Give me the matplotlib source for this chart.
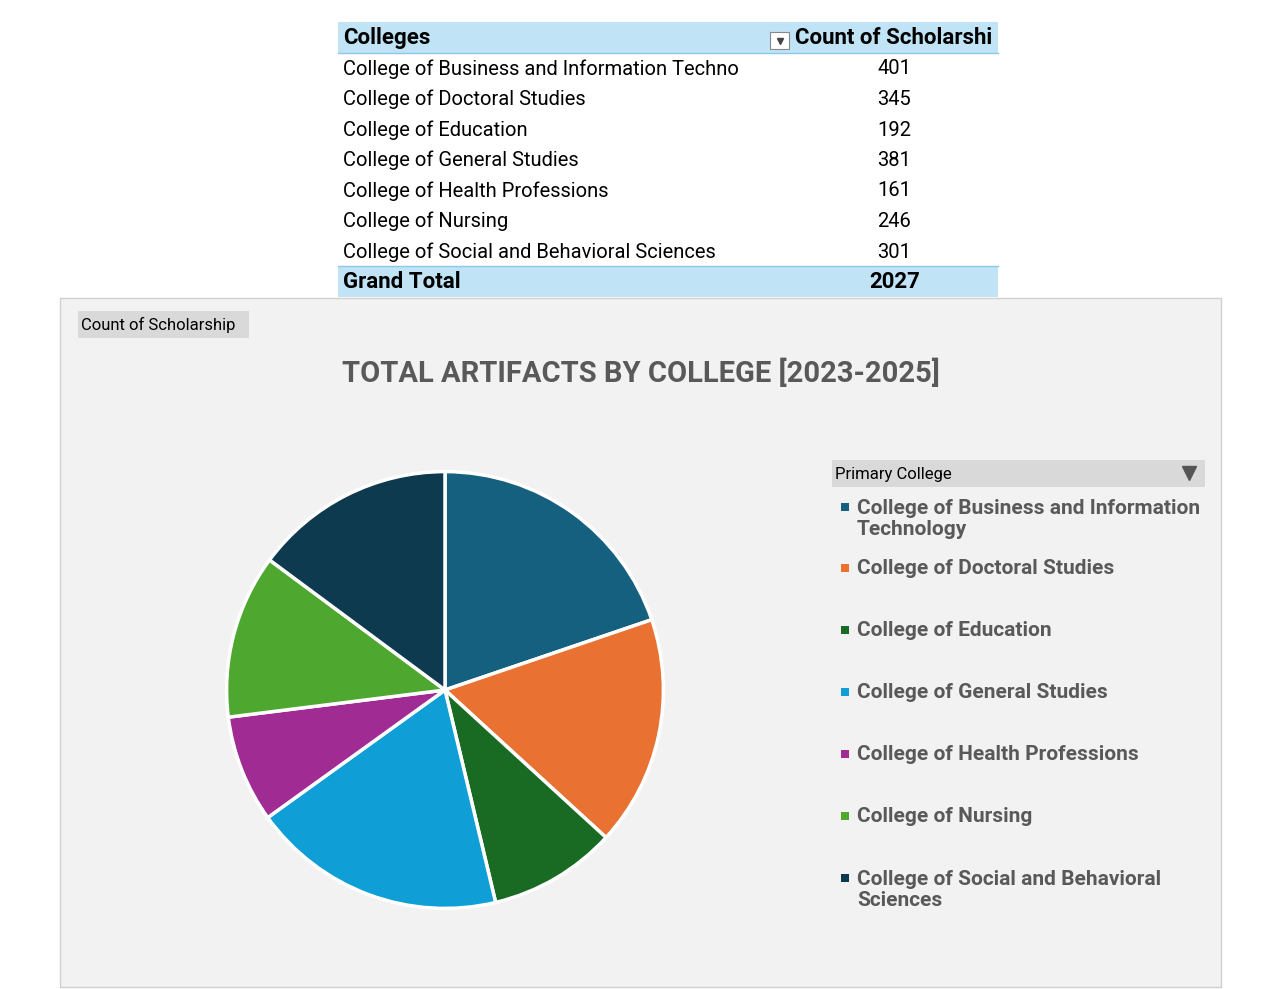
import matplotlib
matplotlib.use("Agg")
import matplotlib.pyplot as plt
from matplotlib.patches import Rectangle

colleges = ["College of Business and Information Technology", "College of Doctoral Studies",
            "College of Education", "College of General Studies", "College of Health Professions",
            "College of Nursing", "College of Social and Behavioral Sciences"]
table_labels = ["College of Business and Information Techno", "College of Doctoral Studies",
                "College of Education", "College of General Studies", "College of Health Professions",
                "College of Nursing", "College of Social and Behavioral Sciences"]
counts = [401, 345, 192, 381, 161, 246, 301]
legend_labels = ["College of Business and Information\nTechnology", "College of Doctoral Studies",
                 "College of Education", "College of General Studies", "College of Health Professions",
                 "College of Nursing", "College of Social and Behavioral\nSciences"]
colors = ["#15607F", "#E97132", "#196B24", "#0F9ED5", "#A02B93", "#4EA72E", "#0E3A4F"]

W, H = 1280, 989
fig = plt.figure(figsize=(12.8, 9.89), dpi=100)
fig.patch.set_facecolor("white")
plt.rcParams["font.family"] = "Roboto"

def fx(x): return x / W
def fy(y): return 1 - y / H
def rect(x0, y0, x1, y1, zorder=-5, **kw):
    fig.patches.append(Rectangle((fx(x0), fy(y1)), fx(x1 - x0), (y1 - y0) / H,
                                 transform=fig.transFigure, figure=fig, zorder=zorder, **kw))
def txt(x, y, s, **kw):
    return fig.text(fx(x), fy(y), s, va="center", **kw)

# Table
rect(338, 22, 998, 53, facecolor="#C0E4F5", edgecolor="none")
rect(338, 266, 998, 297, facecolor="#C0E4F5", edgecolor="none")
fig.lines.append(plt.Line2D([fx(338), fx(998)], [fy(53), fy(53)], color="#8CC8E8", lw=1, transform=fig.transFigure))
fig.lines.append(plt.Line2D([fx(338), fx(998)], [fy(266), fy(266)], color="#8CC8E8", lw=1, transform=fig.transFigure))
txt(343, 38, "Colleges", fontsize=16, fontweight="bold", color="black")
t = txt(795, 38, "Count of Scholarshi", fontsize=16, fontweight="bold", color="black")
clip = Rectangle((fx(338), fy(53)), fx(660), 31 / H, transform=fig.transFigure, visible=False)
fig.patches.append(clip)
t.set_clip_path(clip)
rect(770, 32, 789, 49, zorder=2, facecolor="white", edgecolor="#888888", lw=0.8)
fig.lines.append(plt.Line2D([fx(779.5)], [fy(41)], marker="v", ms=5, color="#444444",
                            transform=fig.transFigure, zorder=3))
for i, (lab, v) in enumerate(zip(table_labels, counts)):
    y = 69 + i * 30.5
    t = txt(343, y, lab, fontsize=14.5, color="black")
    if i == 0:
        c = Rectangle((fx(338), fy(85)), fx(452), 32 / H, transform=fig.transFigure, visible=False)
        fig.patches.append(c)
        t.set_clip_path(c)
    txt(877, y, str(v), fontsize=14.5, color="black", ha="left")
txt(343, 282, "Grand Total", fontsize=16, fontweight="bold", color="black")
txt(869, 282, str(sum(counts)), fontsize=16, fontweight="bold", color="black", ha="left")

# Chart area
rect(60, 298, 1221, 987, facecolor="#F2F2F2", edgecolor="#D0D0D0", lw=1)
rect(78, 311, 249, 338, facecolor="#D9D9D9", edgecolor="none")
txt(81, 325, "Count of Scholarship", fontsize=12, color="black")
txt(641, 373, "TOTAL ARTIFACTS BY COLLEGE [2023-2025]", fontsize=21, fontweight="bold", color="#595959", ha="center")

cx, cy, r = 445, 690, 273
ax = fig.add_axes([fx(cx - r), fy(cy + r), 2 * r / W, 2 * r / H])
ax.pie(counts, colors=colors, startangle=90, counterclock=False,
       wedgeprops=dict(edgecolor="white", linewidth=2.5))
ax.set_aspect("equal")
ax.axis("off")
ax.set_zorder(5)

# Legend
rect(832, 460, 1205, 487, facecolor="#D9D9D9", edgecolor="none")
txt(835, 474, "Primary College", fontsize=12, color="black")
fig.lines.append(plt.Line2D([fx(1189)], [fy(473)], marker="v", ms=10, color="#555555",
                            transform=fig.transFigure, zorder=3))
ys = [519, 568, 630, 692, 754, 816, 890]
for lab, c, y in zip(legend_labels, colors, ys):
    nl = lab.count("\n")
    sq_y = y - 12 if nl else y
    rect(841, sq_y - 4, 849, sq_y + 4, zorder=2, facecolor=c, edgecolor="none")
    txt(857, y, lab, fontsize=15, fontweight="bold", color="#595959", linespacing=1.15)

fig.savefig("out.png", dpi=100)
